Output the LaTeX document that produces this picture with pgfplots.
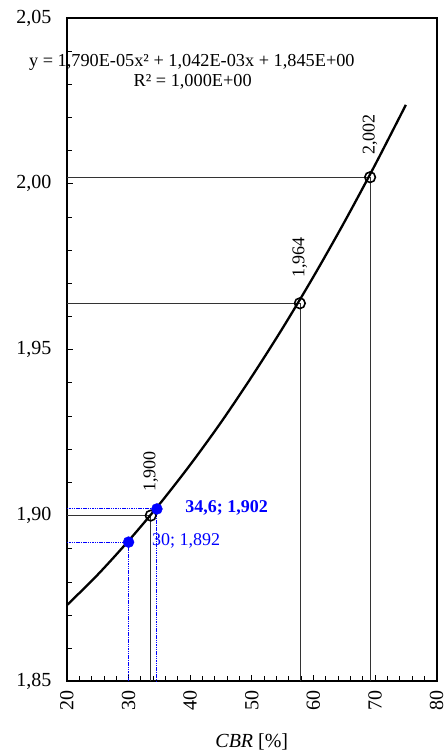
\documentclass[border=0pt]{standalone}
\usepackage{pgfplots}
\pgfplotsset{compat=1.18}
\usepackage{fontspec}
\setmainfont{Liberation Serif}
\definecolor{pblue}{RGB}{0,0,255}
\begin{document}
\begin{tikzpicture}
\begin{axis}[
  scale only axis, width=370pt, height=664pt,
  xmin=20, xmax=80, ymin=1.85, ymax=2.05,
  xtick={20,30,40,50,60,70,80},
  ytick={1.85,1.9,1.95,2,2.05},
  minor x tick num=4, minor y tick num=4,
  tick align=inside, xtick pos=bottom, ytick pos=left,
  axis line style={line width=2pt},
  major tick length=6pt, minor tick length=5pt,
  tick style={black, line width=0.8pt},
  /pgf/number format/assume math mode=true,
  y tick label style={/pgf/number format/.cd, fixed, fixed zerofill, precision=2, use comma, 1000 sep={}, /tikz/.cd, font=\fontsize{20}{22}\selectfont, xshift=-12pt},
  x tick label style={yshift=-6pt, rotate=90, anchor=east, font=\fontsize{20}{22}\selectfont},
  xlabel={\textit{CBR} [\%]},
  x label style={at={(axis description cs:0.5,0)}, anchor=center, yshift=-61pt, font=\fontsize{20}{22}\selectfont},
  clip=false,
]
% guide lines
\addplot[black!80, line width=0.6pt] coordinates {(20,1.900) (33.6,1.900) (33.6,1.85)};
\addplot[black!80, line width=0.6pt] coordinates {(20,1.964) (57.8,1.964) (57.8,1.85)};
\addplot[black!80, line width=0.6pt] coordinates {(20,2.002) (69.2,2.002) (69.2,1.85)};
\addplot[pblue, line width=1pt, dash pattern={on 1.5pt off 0.8pt}] coordinates {(20,1.892) (30,1.892) (30,1.85)};
\addplot[pblue, line width=1pt, dash pattern={on 1.5pt off 0.8pt}] coordinates {(20,1.902) (34.6,1.902) (34.6,1.85)};
% trend curve
\addplot[black, line width=2.3pt, smooth] coordinates {
 (20,1.8730) (25,1.8822) (30,1.8924) (35,1.9034) (40,1.9153) (45,1.9281)
 (50,1.9419) (55,1.9565) (60,1.9720) (65,1.9884) (70,2.0057) (75,2.0238)};
% points
\addplot[only marks, mark=o, mark size=5.3pt, mark options={black, line width=1.6pt, fill=none}] coordinates {(33.6,1.900) (57.8,1.964) (69.2,2.002)};
\addplot[only marks, mark=*, mark size=5.5pt, mark options={pblue, fill=pblue}] coordinates {(30,1.892) (34.6,1.902)};
% labels
\node[rotate=90, anchor=west, inner sep=0pt, font=\fontsize{18}{20}\selectfont] at (axis cs:33.6,1.9072) {1,900};
\node[rotate=90, anchor=west, inner sep=0pt, font=\fontsize{18}{20}\selectfont] at (axis cs:57.8,1.9717) {1,964};
\node[rotate=90, anchor=west, inner sep=0pt, font=\fontsize{18}{20}\selectfont] at (axis cs:69.2,2.0087) {2,002};
\node[anchor=west, inner sep=0pt, text=pblue, font=\fontsize{18}{20}\selectfont\bfseries] at (axis cs:39.2,1.9024) {34,6; 1,902};
\node[anchor=west, inner sep=0pt, text=pblue, font=\fontsize{18}{20}\selectfont] at (axis cs:33.8,1.8925) {30; 1,892};
\node[anchor=center, inner sep=0pt, font=\fontsize{18.3}{20}\selectfont] at (axis cs:40.27,2.0367) {y = 1,790E-05x² + 1,042E-03x + 1,845E+00};
\node[anchor=center, inner sep=0pt, font=\fontsize{18.3}{20}\selectfont] at (axis cs:40.4,2.0307) {R² = 1,000E+00};
\end{axis}
\useasboundingbox (-67pt,-72pt) rectangle (379pt,682pt);
\end{tikzpicture}
\end{document}
